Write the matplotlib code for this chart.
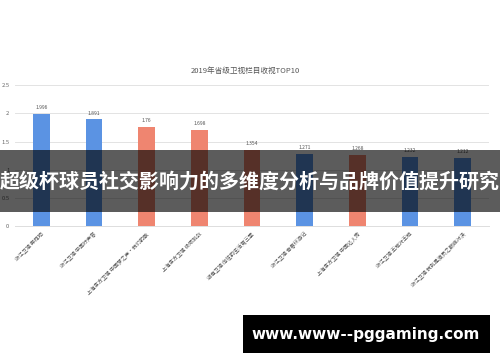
import matplotlib.pyplot as plt
from matplotlib.patches import Rectangle

plt.rcParams['font.family'] = ['Noto Sans CJK SC', 'DejaVu Sans']

''' 2019 provincial satellite TV programme ratings '''

programs = ['浙江卫视 奔跑吧', '浙江卫视 中国好声音', '上海东方卫视 中国梦之声·我们的歌',
            '上海东方卫视 极限挑战', '湖南卫视 向往的生活第三季', '浙江卫视 青春环游记',
            '上海东方卫视 中国达人秀', '浙江卫视 王牌对王牌', '浙江卫视 我就是演员之巅峰对决']
ratings = [1.996, 1.891, 1.76, 1.698, 1.354, 1.271, 1.268, 1.232, 1.212]
channels = ['zj', 'zj', 'sh', 'sh', 'hn', 'zj', 'sh', 'zj', 'zj']
yticks = [0, 0.5, 1, 1.5, 2, 2.5]

colors = {'zj': '#5b93e3', 'sh': '#ef8570', 'hn': '#ef8570'}

fig = plt.figure(figsize=(5, 3.62), dpi=100)
ax = fig.add_axes([0.03, 0.3757, 0.948, 0.389])

x = list(range(len(programs)))
bars = ax.bar(x, ratings, width=0.32, color=[colors[c] for c in channels], zorder=2)
for xi, v in zip(x, ratings):
    ax.text(xi, v + 0.07, f"{v:g}", ha='center', va='bottom',
            fontsize=3.6, color='#555555')

ax.set_xlim(-0.5, len(programs) - 0.5)
ax.set_ylim(0, 2.5)
ax.set_yticks(yticks)
ax.set_yticklabels([f"{t:g}" for t in yticks], fontsize=4.2, color='#666666')
ax.set_xticks(x)
ax.set_xticklabels(programs, rotation=45, ha='right', rotation_mode='anchor',
                   fontsize=3.8, color='#555555')
ax.tick_params(length=0, pad=4)
ax.grid(axis='y', color='#e3e3e3', linewidth=0.7, zorder=0)
for s in ['top', 'right', 'left']:
    ax.spines[s].set_visible(False)
ax.spines['bottom'].set_color('#dddddd')
ax.spines['bottom'].set_linewidth(0.7)

fig.text(0.49, 0.803, '2019年省级卫视栏目收视TOP10', ha='center', va='center',
         fontsize=5.5, color='#555555')

# overlay banner
fig.patches.append(Rectangle((0, 1 - 212 / 362), 1, 62 / 362, transform=fig.transFigure,
                             facecolor='black', alpha=0.64, zorder=5))
fig.text(0.5, 1 - 181 / 362, '超级杯球员社交影响力的多维度分析与品牌价值提升研究',
         ha='center', va='center', fontsize=14.4, fontweight='bold', color='white', zorder=6)

# url box
fig.patches.append(Rectangle((243 / 500, 1 - 353 / 362), 247 / 500, 38 / 362,
                             transform=fig.transFigure, facecolor='black', zorder=5))
fig.text(366 / 500, 1 - 334 / 362, 'www.www--pggaming.com', ha='center', va='center',
         fontsize=11, fontweight='bold', color='white', family='DejaVu Sans', zorder=6)

plt.savefig('out.png', dpi=100)
